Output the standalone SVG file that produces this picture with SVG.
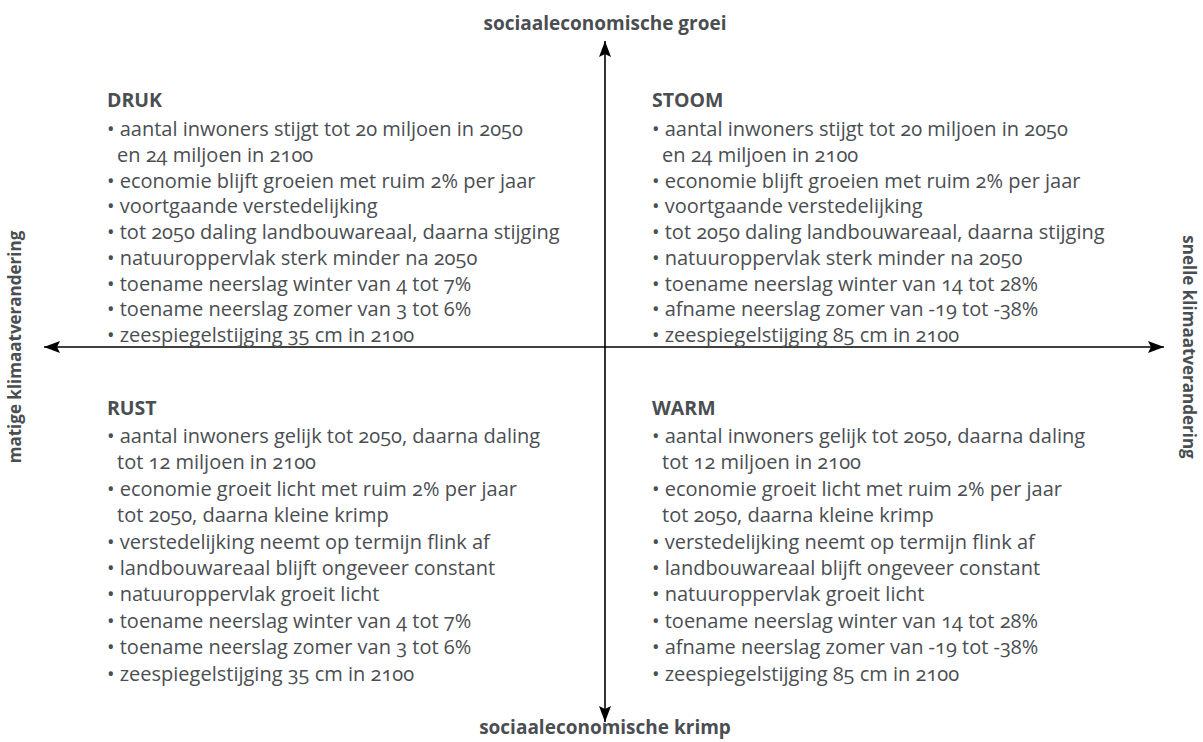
<svg xmlns="http://www.w3.org/2000/svg" width="1203" height="742" viewBox="0 0 1203 742">
<style>
text{font-family:"Open Sans","Noto Sans","Liberation Sans",sans-serif;fill:#4a4e52;font-variant-numeric:oldstyle-nums}
.b{font-size:20px}
.h{font-size:19.5px;font-weight:bold}
.ax{font-size:19px;font-weight:bold;text-anchor:middle}
.sx{font-size:17px;font-weight:bold;text-anchor:middle}
.axis{stroke:#000;stroke-width:1.6;fill:none}
</style>
<defs>
<marker id="ah" viewBox="0 0 16 12" refX="16" refY="6" markerWidth="16" markerHeight="12" markerUnits="userSpaceOnUse" orient="auto">
<path d="M0,0 L16,6 L0,12 L3,6 Z" fill="#000"/>
</marker>
</defs>
<rect width="1203" height="742" fill="#fff"/>
<g id="connectors">
<line class="axis" x1="605" y1="347" x2="605" y2="41" marker-end="url(#ah)"/>
<line class="axis" x1="605" y1="347" x2="605" y2="722" marker-end="url(#ah)"/>
<line class="axis" x1="605" y1="347" x2="44" y2="347" marker-end="url(#ah)"/>
<line class="axis" x1="605" y1="347" x2="1164" y2="347" marker-end="url(#ah)"/>
</g>
<g id="axis-top"><text class="ax" x="605" y="30">sociaaleconomische groei</text></g>
<g id="axis-bottom"><text class="ax" x="605" y="734">sociaaleconomische krimp</text></g>
<g id="axis-left"><text class="sx" transform="translate(21,347) rotate(-90)">matige klimaatverandering</text></g>
<g id="axis-right"><text class="sx" transform="translate(1183,347) rotate(90)">snelle klimaatverandering</text></g>
<g id="druk">
<text class="h" x="107" y="107">DRUK</text>
<text class="b" x="107" y="136">• aantal inwoners stijgt tot 20 miljoen in 2050</text>
<text class="b" x="117" y="161.75">en 24 miljoen in 2100</text>
<text class="b" x="107" y="187.5">• economie blijft groeien met ruim 2% per jaar</text>
<text class="b" x="107" y="213.25">• voortgaande verstedelijking</text>
<text class="b" x="107" y="239">• tot 2050 daling landbouwareaal, daarna stijging</text>
<text class="b" x="107" y="264.75">• natuuroppervlak sterk minder na 2050</text>
<text class="b" x="107" y="290.5">• toename neerslag winter van 4 tot 7%</text>
<text class="b" x="107" y="316.25">• toename neerslag zomer van 3 tot 6%</text>
<text class="b" x="107" y="342">• zeespiegelstijging 35 cm in 2100</text>
</g>
<g id="stoom">
<text class="h" x="652" y="107">STOOM</text>
<text class="b" x="652" y="136">• aantal inwoners stijgt tot 20 miljoen in 2050</text>
<text class="b" x="662" y="161.75">en 24 miljoen in 2100</text>
<text class="b" x="652" y="187.5">• economie blijft groeien met ruim 2% per jaar</text>
<text class="b" x="652" y="213.25">• voortgaande verstedelijking</text>
<text class="b" x="652" y="239">• tot 2050 daling landbouwareaal, daarna stijging</text>
<text class="b" x="652" y="264.75">• natuuroppervlak sterk minder na 2050</text>
<text class="b" x="652" y="290.5">• toename neerslag winter van 14 tot 28%</text>
<text class="b" x="652" y="316.25">• afname neerslag zomer van -19 tot -38%</text>
<text class="b" x="652" y="342">• zeespiegelstijging 85 cm in 2100</text>
</g>
<g id="rust">
<text class="h" x="107" y="415">RUST</text>
<text class="b" x="107" y="443">• aantal inwoners gelijk tot 2050, daarna daling</text>
<text class="b" x="117" y="469.4">tot 12 miljoen in 2100</text>
<text class="b" x="107" y="495.8">• economie groeit licht met ruim 2% per jaar</text>
<text class="b" x="117" y="522.2">tot 2050, daarna kleine krimp</text>
<text class="b" x="107" y="548.6">• verstedelijking neemt op termijn flink af</text>
<text class="b" x="107" y="575">• landbouwareaal blijft ongeveer constant</text>
<text class="b" x="107" y="601.4">• natuuroppervlak groeit licht</text>
<text class="b" x="107" y="627.8">• toename neerslag winter van 4 tot 7%</text>
<text class="b" x="107" y="654.2">• toename neerslag zomer van 3 tot 6%</text>
<text class="b" x="107" y="680.6">• zeespiegelstijging 35 cm in 2100</text>
</g>
<g id="warm">
<text class="h" x="652" y="415">WARM</text>
<text class="b" x="652" y="443">• aantal inwoners gelijk tot 2050, daarna daling</text>
<text class="b" x="662" y="469.4">tot 12 miljoen in 2100</text>
<text class="b" x="652" y="495.8">• economie groeit licht met ruim 2% per jaar</text>
<text class="b" x="662" y="522.2">tot 2050, daarna kleine krimp</text>
<text class="b" x="652" y="548.6">• verstedelijking neemt op termijn flink af</text>
<text class="b" x="652" y="575">• landbouwareaal blijft ongeveer constant</text>
<text class="b" x="652" y="601.4">• natuuroppervlak groeit licht</text>
<text class="b" x="652" y="627.8">• toename neerslag winter van 14 tot 28%</text>
<text class="b" x="652" y="654.2">• afname neerslag zomer van -19 tot -38%</text>
<text class="b" x="652" y="680.6">• zeespiegelstijging 85 cm in 2100</text>
</g>
</svg>
